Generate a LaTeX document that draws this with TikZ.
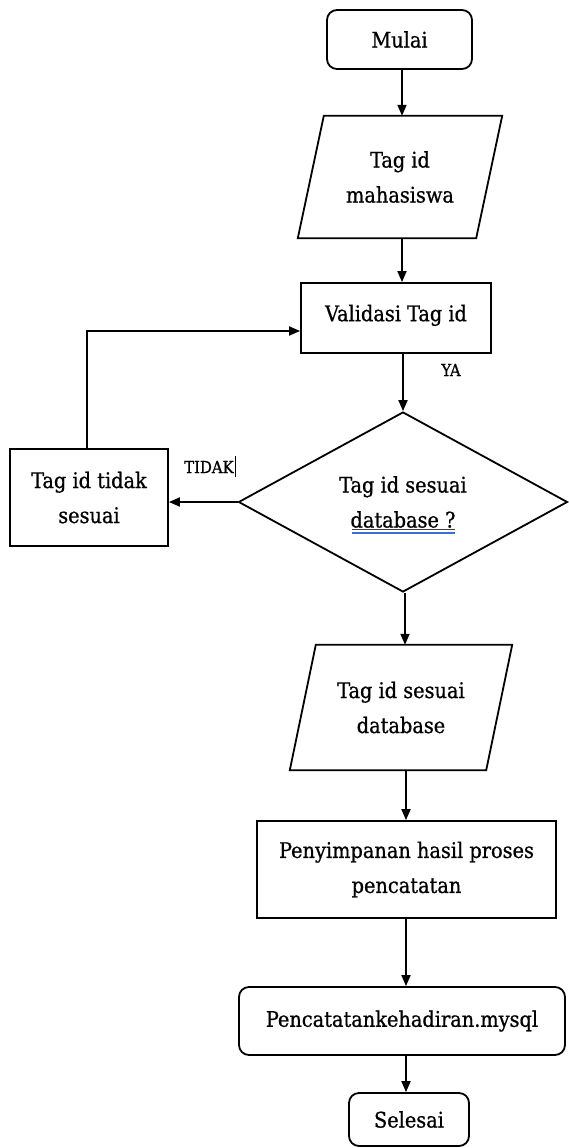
\documentclass[tikz,border=0pt]{standalone}
\usepackage{fontspec}
\setmainfont{DejaVu Serif Condensed}[FakeBold=0.8]
\usetikzlibrary{shapes.geometric,arrows.meta}
\definecolor{checkblue}{HTML}{3A6FD8}

\begin{document}
\begin{tikzpicture}[x=1pt,y=-1pt,
  font=\fontsize{21.5}{35}\selectfont,
  every node/.style={align=center,inner sep=0pt},
  line/.style={line width=1.8pt},
  flow/.style={line, -{Triangle[length=11pt,width=9pt]}},
  procbox/.style={draw,line width=1.8pt},
  termbox/.style={draw,line width=1.8pt,rounded corners=10pt},
  iobox/.style={},
  decbox/.style={draw,line width=1.8pt,diamond,aspect=1.8},
  branch/.style={font=\fontsize{16.5}{18}\selectfont}
]
\useasboundingbox (0,0) rectangle (568,1148);

% terminals and processes
\node[termbox,minimum width=145pt,minimum height=59pt] (mulai) at (399.5,39.5) {Mulai};
\node[iobox,minimum width=178pt,minimum height=122pt] (tagid) at (400,177) {Tag id\\mahasiswa};
\node[procbox,minimum width=190pt,minimum height=70pt] (valid) at (396,318) {\raisebox{10pt}{Validasi Tag id}};
\node[decbox,minimum width=329pt,minimum height=180pt] (cek) at (403,502) {Tag id sesuai\\database ?};
\node[procbox,minimum width=158pt,minimum height=97pt] (tidak) at (89,497.5) {Tag id tidak\\sesuai};
\node[iobox,minimum width=196pt,minimum height=125pt] (sesuai) at (401,707.5) {Tag id sesuai\\database};
\node[procbox,minimum width=299pt,minimum height=97pt] (simpan) at (406.5,869.5) {Penyimpanan hasil proses\\pencatatan};
\node[termbox,minimum width=326pt,minimum height=68pt] (catat) at (402,1021) {Pencatatankehadiran.mysql};
\node[termbox,minimum width=120pt,minimum height=53pt] (selesai) at (409,1119.5) {Selesai};

% parallelogram outlines of the input nodes
\foreach \n in {tagid,sesuai}{
  \draw[line] ([xshift=13pt]\n.north west) -- ([xshift=13pt]\n.north east)
    -- ([xshift=-13pt]\n.south east) -- ([xshift=-13pt]\n.south west) -- cycle;
}

% underline and spell-check mark under the decision text
\draw[black!75,line width=0.9pt] ([xshift=-51pt,yshift=-27pt]cek.center) -- ([xshift=52pt,yshift=-27pt]cek.center);
\draw[checkblue,line width=1.6pt] ([xshift=-51pt,yshift=-31pt]cek.center) -- ([xshift=52pt,yshift=-31pt]cek.center);

% branch labels
\node[branch] (ya) at (451,370) {YA};
\node[branch,anchor=west] (no) at (184,467) {TIDAK};
\draw[line width=1pt] ([xshift=2pt,yshift=-10pt]no.east) -- ([xshift=2pt,yshift=11pt]no.east);

% connectors
\draw[flow] ([xshift=2.5pt]mulai.south) -- ([xshift=2.5pt]mulai.south |- tagid.north);
\draw[flow] ([xshift=2pt]tagid.south) -- ([xshift=2pt]tagid.south |- valid.north);
\draw[flow] ([xshift=7pt]valid.south) -- ([xshift=7pt]valid.south |- cek.north);
\draw[flow] (cek.west) -- (cek.west -| tidak.east);
\draw[flow] ([xshift=-2pt]tidak.north) |- ([yshift=-13pt]valid.west);
\draw[flow] ([xshift=2pt]cek.south) -- ([xshift=2pt]cek.south |- sesuai.north);
\draw[flow] ([xshift=5pt]sesuai.south) -- ([xshift=5pt]sesuai.south |- simpan.north);
\draw[flow] ([xshift=-0.5pt]simpan.south) -- ([xshift=-0.5pt]simpan.south |- catat.north);
\draw[flow] ([xshift=4pt]catat.south) -- ([xshift=4pt]catat.south |- selesai.north);
\end{tikzpicture}
\end{document}
